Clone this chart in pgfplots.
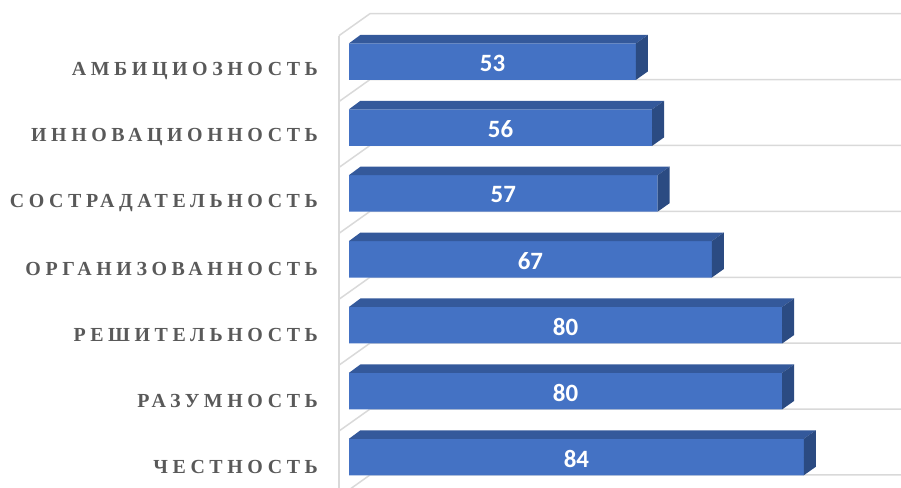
\documentclass[border=0pt]{standalone}
\usepackage{fontspec}
\setmainfont{Liberation Serif}
\newfontfamily\catfont{Liberation Serif}[LetterSpace=23]
\newfontfamily\numfont{Carlito}
\usepackage{pgfplots}
\usepackage{pgfplotstable}
\pgfplotsset{compat=1.18}
\definecolor{barfront}{HTML}{4472C4}
\definecolor{bartop}{HTML}{34599B}
\definecolor{barside}{HTML}{2B4B82}
\definecolor{gridc}{HTML}{D9D9D9}
\definecolor{labc}{HTML}{595959}

\pgfplotstableread{
k v
1 84
2 80
3 80
4 67
5 57
6 56
7 53
}\data

\begin{document}
\begin{tikzpicture}
\path[use as bounding box, clip] (0,0) rectangle (901bp,-488bp);
\begin{axis}[
  at={(349bp,-522.9bp)}, anchor=south west,
  x=5.415bp, y=65.9bp,
  xmin=0, xmax=102, ymin=0, ymax=7.7,
  axis line style={draw=none},
  major tick length=0pt,
  xtick=\empty,
  clip=false,
  ytick={1,...,7},
  yticklabels={ЧЕСТНОСТЬ, РАЗУМНОСТЬ, РЕШИТЕЛЬНОСТЬ, ОРГАНИЗОВАННОСТЬ, СОСТРАДАТЕЛЬНОСТЬ, ИННОВАЦИОННОСТЬ, АМБИЦИОЗНОСТЬ},
  yticklabel style={font=\catfont\bfseries\fontsize{20}{20}\selectfont, text=labc, anchor=east, inner sep=0pt, xshift=-31bp, yshift=-9.5bp},
]
\draw[gridc, line width=1.5bp] ([xshift=-10bp,yshift=-7bp]axis cs:0,7.5) -- ([xshift=-10bp,yshift=-7bp]axis cs:0,-0.5);
\pgfplotsinvokeforeach{0.5,1.5,2.5,3.5,4.5,5.5,6.5,7.5}{
  \draw[gridc, line width=1.5bp] ([xshift=-10bp,yshift=-7bp]axis cs:0,#1) -- ([xshift=21bp,yshift=15bp]axis cs:0,#1) -- ([xshift=21bp,yshift=15bp]axis cs:110,#1);
}
\addplot[xbar, bar width=36.5bp, fill=barfront, draw=none, bar shift=0pt] table[x=v,y=k]{\data};
\addplot[scatter, only marks, mark=*, mark size=0pt, draw=none,
  visualization depends on={rawx \as \val},
  scatter/@pre marker code/.code={%
    \pgfmathsetmacro\L{\val*5.415}%
    \fill[bartop] (0bp,18.25bp) -- (-\L bp,18.25bp) -- ({-\L bp+11.5bp},26.75bp) -- (12bp,26.75bp) -- cycle;
    \fill[barside] (0bp,-18.25bp) -- (0bp,18.25bp) -- (12bp,26.75bp) -- (12bp,-9.75bp) -- cycle;
  },
  scatter/@post marker code/.code={}] table[x=v,y=k]{\data};
\addplot[only marks, mark=none, nodes near coords, point meta=explicit symbolic,
  nodes near coords style={font=\numfont\bfseries\fontsize{25}{25}\selectfont, text=white, anchor=center, inner sep=0pt, yshift=-1.5bp}]
  table[x expr=\thisrow{v}/2, y=k, meta=v]{\data};
\end{axis}
\end{tikzpicture}
\end{document}
